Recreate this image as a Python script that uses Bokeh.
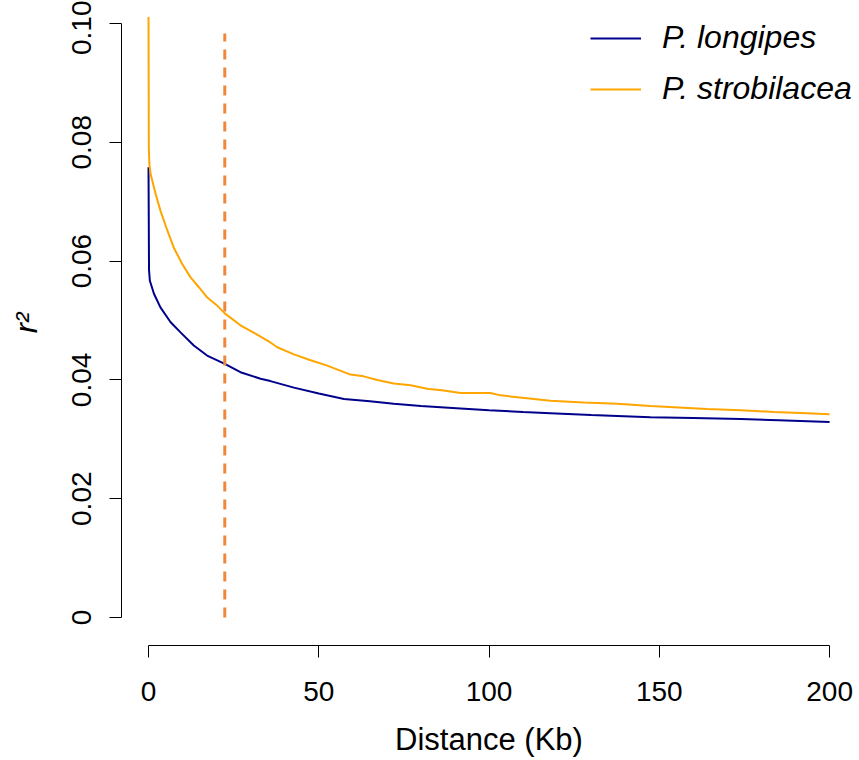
import math
from bokeh.plotting import figure
from bokeh.models import Range1d, FixedTicker, Legend, LegendItem
from bokeh.embed import file_html
from bokeh.resources import INLINE

# ---- data ----
longipes_kb = [0, 0.15, 0.4, 1.6, 3.5, 6.5, 9.4, 13.3, 17.2, 22.4, 27, 32.9, 35.8,
               42.7, 50, 57.4, 65, 72, 80, 91.6, 100, 110, 118, 130, 147.4, 160,
               173.9, 185, 200]
longipes_r2 = [0.0758, 0.0585, 0.0567, 0.0545, 0.0522, 0.0497, 0.0480, 0.0458,
               0.0441, 0.0427, 0.0413, 0.0402, 0.0398, 0.0387, 0.0377, 0.0368,
               0.0364, 0.0360, 0.0356, 0.0352, 0.0349, 0.0346, 0.0344, 0.0341,
               0.0337, 0.0336, 0.0334, 0.0332, 0.0329]

strob_kb = [0, 0.1, 0.25, 0.6, 2.1, 3.5, 5.5, 7.4, 9.9, 12.3, 14.8, 17.2, 20.2,
            22.4, 27, 31.4, 35.8, 37.8, 42.7, 47.6, 52.5, 59.3, 63.2, 67.2, 72,
            77, 81.8, 86.7, 91.6, 94.6, 100.4, 103.4, 108.3, 113.2, 118, 127.8,
            137.6, 147.4, 154.3, 164, 173.9, 183.6, 193.4, 200]
strob_r2 = [0.1011, 0.0790, 0.0764, 0.0747, 0.0713, 0.0685, 0.0652, 0.0623,
            0.0595, 0.0573, 0.0556, 0.0539, 0.0525, 0.0512, 0.0492, 0.0478,
            0.0463, 0.0455, 0.0443, 0.0433, 0.0424, 0.0409, 0.0406, 0.0400,
            0.0394, 0.0391, 0.0385, 0.0382, 0.0378, 0.0378, 0.0378, 0.0374,
            0.0371, 0.0368, 0.0365, 0.0362, 0.0360, 0.0356, 0.0354, 0.0351,
            0.0349, 0.0346, 0.0344, 0.0342]

threshold_kb = 22.4
threshold_top = 0.0983

x_ticks = [0, 50, 100, 150, 200]
x_tick_labels = ["0", "50", "100", "150", "200"]
y_ticks = [0, 0.02, 0.04, 0.06, 0.08, 0.10]
y_tick_labels = ["0", "0.02", "0.04", "0.06", "0.08", "0.10"]

series_names = ["P. longipes", "P. strobilacea"]

FONT = "Liberation Sans"

p = figure(width=859, height=760,
           x_range=Range1d(-7.93, 207.9), y_range=Range1d(-0.00471, 0.10387),
           output_backend="svg", toolbar_location=None,
           min_border_left=121, min_border_right=3, min_border_top=0,
           min_border_bottom=115)
p.outline_line_color = None
p.xgrid.visible = False
p.ygrid.visible = False
p.background_fill_color = "white"
p.border_fill_color = "white"

# axes
xa = p.xaxis[0]
xa.ticker = FixedTicker(ticks=x_ticks)
xa.major_label_overrides = {t: l for t, l in zip(x_ticks, x_tick_labels)}
xa.bounds = (x_ticks[0], x_ticks[-1])
xa.minor_tick_line_color = None
xa.major_tick_out = 12
xa.major_tick_in = 0
xa.major_label_text_font = FONT
xa.major_label_text_font_size = "28px"
xa.major_label_text_color = "black"
xa.major_label_standoff = 24
xa.axis_line_color = "black"
xa.major_tick_line_color = "black"
xa.axis_label = "Distance (Kb)"
xa.axis_label_text_font = FONT
xa.axis_label_text_font_size = "31px"
xa.axis_label_text_font_style = "normal"
xa.axis_label_text_color = "black"
xa.axis_label_standoff = 18

ya = p.yaxis[0]
ya.ticker = FixedTicker(ticks=y_ticks)
ya.major_label_overrides = {t: l for t, l in zip(y_ticks, y_tick_labels)}
ya.bounds = (y_ticks[0], y_ticks[-1])
ya.minor_tick_line_color = None
ya.major_tick_out = 12
ya.major_tick_in = 0
ya.major_label_orientation = "vertical"
ya.major_label_text_font = FONT
ya.major_label_text_font_size = "28px"
ya.major_label_text_color = "black"
ya.major_label_standoff = 18
ya.axis_line_color = "black"
ya.major_tick_line_color = "black"
ya.axis_label = "r²"
ya.axis_label_text_font = FONT
ya.axis_label_text_font_size = "31px"
ya.axis_label_text_font_style = "italic"
ya.axis_label_text_color = "black"
ya.axis_label_standoff = 26

# data lines
r1 = p.line(longipes_kb, longipes_r2, line_color="#00008B", line_width=2)
r2 = p.line(strob_kb, strob_r2, line_color="#FFA500", line_width=2)

# threshold
p.segment(x0=[threshold_kb], y0=[0], x1=[threshold_kb], y1=[threshold_top],
          line_color="#F0883C", line_width=3, line_dash="10 8")

legend = Legend(items=[LegendItem(label=series_names[0], renderers=[r1]),
                       LegendItem(label=series_names[1], renderers=[r2])],
                location=(469, 538))
legend.border_line_color = None
legend.background_fill_alpha = 0
legend.padding = 0
legend.margin = 0
legend.glyph_width = 51
legend.glyph_height = 36
legend.label_height = 36
legend.spacing = 14
legend.label_standoff = 21
legend.label_text_font = FONT
legend.label_text_font_size = "32px"
legend.label_text_font_style = "italic"
legend.label_text_color = "black"
p.add_layout(legend)

open("out.html", "w").write(file_html(p, INLINE))
